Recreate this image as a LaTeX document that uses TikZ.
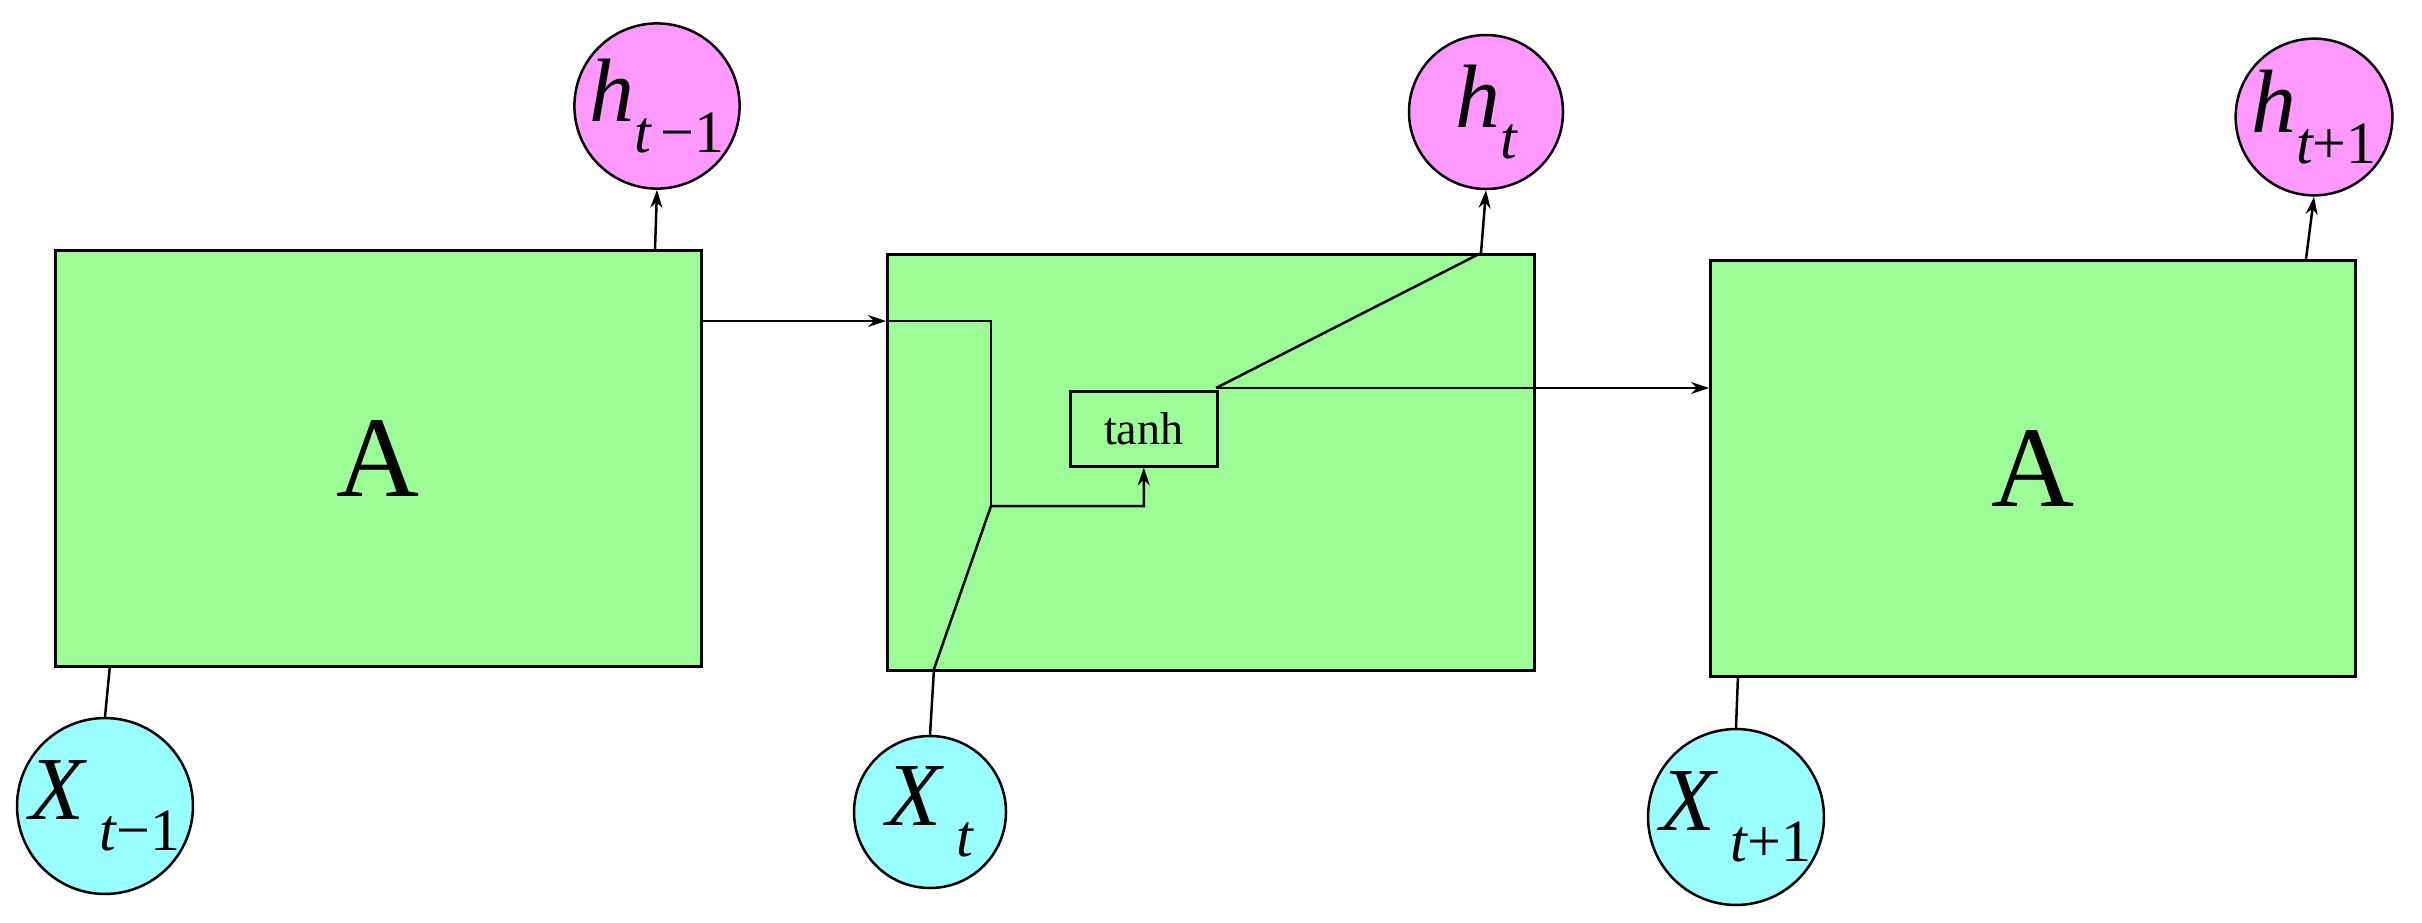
\documentclass[tikz,border=0pt]{standalone}
\usepackage{fontspec}
\setmainfont{Liberation Serif}
\usetikzlibrary{arrows.meta}
\definecolor{boxg}{HTML}{9CFC96}
\definecolor{pinkc}{HTML}{FF99FF}
\definecolor{cyanc}{HTML}{99FFFF}
\begin{document}
\begin{tikzpicture}[x=1pt,y=-1pt,line width=2.5pt,
  cell/.style={draw,fill=boxg,line width=3pt},
  hn/.style={draw,fill=pinkc,circle,minimum size=154pt,inner sep=0pt,font=\fontsize{90}{90}\selectfont\itshape},
  xn/.style={draw,fill=cyanc,circle,minimum size=152pt,inner sep=0pt,font=\fontsize{90}{90}\selectfont\itshape},
  arr/.style={-{Stealth[length=18pt,width=12pt]}}]
\useasboundingbox (0,0) rectangle (2422,922);
% boxes
\node[cell,minimum width=646pt,minimum height=416pt,anchor=north west,inner sep=0pt,font=\fontsize{115}{115}\selectfont] (A1) at (54,249) {A};
\node[cell,minimum width=647pt,minimum height=416pt,anchor=north west,inner sep=0pt] (A2) at (886,253) {};
\node[cell,minimum width=645pt,minimum height=416pt,anchor=north west,inner sep=0pt,font=\fontsize{115}{115}\selectfont] (A3) at (1709,259) {A};
\node[draw,line width=2.5pt,minimum width=147pt,minimum height=75pt,anchor=north west,inner sep=0pt,font=\fontsize{46}{46}\selectfont] (T) at (1069,390) {tanh};
% circles
\node[hn] (h1) at (657,106) {h\raisebox{-0.35em}{\fontsize{60}{60}\selectfont t{\upshape\,\textminus1}}};
\node[hn] (h2) at (1486,112) {h\raisebox{-0.35em}{\fontsize{60}{60}\selectfont t}};
\node[hn] (h3) at (2314,117) {h\raisebox{-0.35em}{\fontsize{60}{60}\selectfont t{\upshape+1}}};
\node[xn] (x1) at (105,806) {X\raisebox{-0.35em}{\fontsize{60}{60}\selectfont\ t{\upshape\textminus1}}};
\node[xn] (x2) at (930,812) {X\raisebox{-0.35em}{\fontsize{60}{60}\selectfont\ t}};
\node[xn] (x3) at (1736,817) {X\raisebox{-0.35em}{\fontsize{60}{60}\selectfont\ t{\upshape+1}}};
% coordinates
\coordinate (j1) at (991,321);
\coordinate (j2) at (991,506);
\coordinate (j3) at (934,669);
\coordinate (tr) at (1216,388);
\coordinate (tp) at (1481,253);
% connectors
\draw[arr] (655,249) -- (h1.south);
\draw[arr] (tp) -- (h2.south);
\draw[arr] (2306,259) -- (h3.south);
\draw (110,665) -- (x1.north);
\draw (1738,675) -- (x3.north);
\draw[arr] (700,321) -- (A2.west |- j1);
\draw (A2.west |- j1) -- (j1) -- (j2);
\draw[arr] (x2.north) -- (j3) -- (j2) -| (T.south);
\draw (tr) -- (tp);
\draw[arr] (tr) -- (A3.west |- tr);
\end{tikzpicture}
\end{document}
